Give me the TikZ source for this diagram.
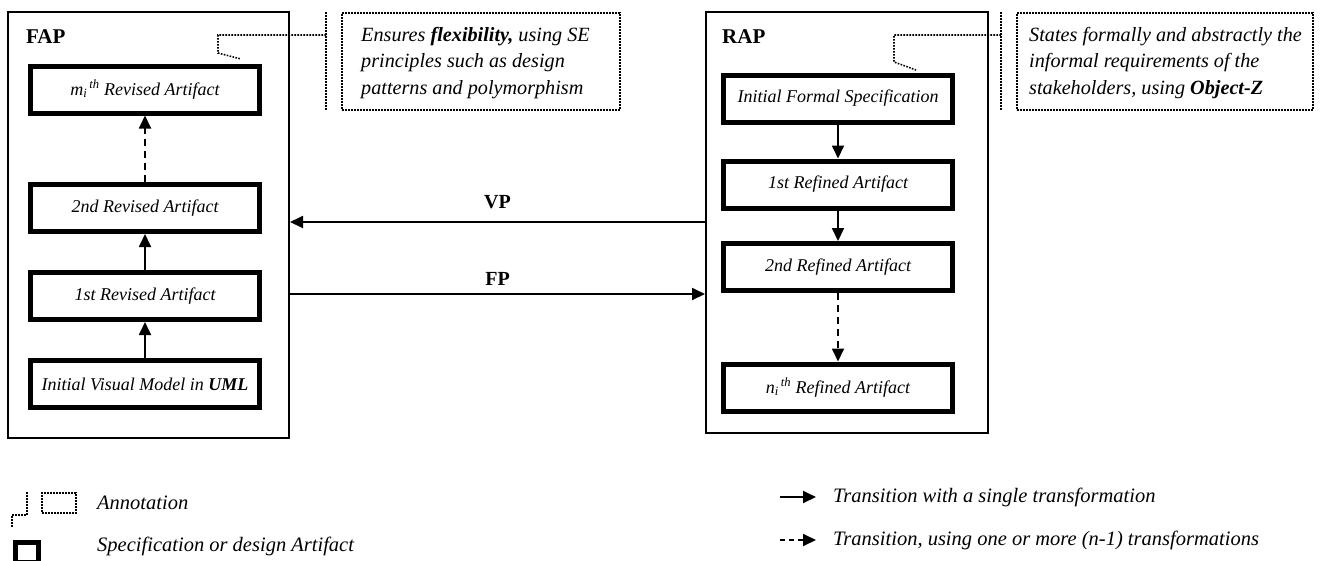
\documentclass[tikz,border=0pt]{standalone}
\usepackage{fontspec}
\setmainfont{Liberation Serif}
\usetikzlibrary{arrows.meta}

\tikzset{
  panel/.style={draw, line width=2, minimum width=#1, inner sep=0},
  artifact/.style={draw, line width=5, minimum width=229, minimum height=47,
    inner sep=0, font=\fontsize{18}{21}\selectfont\itshape},
  title/.style={font=\fontsize{21}{25}\selectfont\bfseries, anchor=west, inner sep=0},
  note/.style={draw, line width=1.6, dash pattern=on 1.6 off 1.4, inner sep=0,
    minimum width=#1, minimum height=97},
  notetext/.style={anchor=west, align=left, inner sep=0,
    font=\fontsize{20.2}{26.5}\selectfont\itshape},
  leader/.style={line width=1.6, dash pattern=on 1.6 off 1.4},
  arr/.style={line width=1.8, -{Triangle[length=13,width=12]}},
  darr/.style={arr, dash pattern=on 7 off 5},
  legendtext/.style={anchor=west, inner sep=0, font=\fontsize{20.5}{24}\selectfont\itshape},
  plabel/.style={font=\fontsize{20}{23}\selectfont\bfseries, inner sep=0}
}

\begin{document}
\begin{tikzpicture}[x=1pt,y=-1pt]
\useasboundingbox (0,0) rectangle (1325,560);

% ---- FAP panel ----
\node[panel=281, minimum height=426] (fap) at (148.5,225) {};
\node[title] (faptitle) at (26,37) {FAP};
\node[artifact] (m)  at (145,89.5) {m\textsubscript{i}\textsuperscript{\,th} Revised Artifact};
\node[artifact] (r2) at (145,208)  {2nd Revised Artifact};
\node[artifact] (r1) at (145,296)  {1st Revised Artifact};
\node[artifact] (uml) at (145,384) {Initial Visual Model in \textbf{UML}};

\draw[arr]  (uml) -- (r1);
\draw[arr]  (r1) -- (r2);
\draw[darr] (r2) -- (m);

% ---- RAP panel ----
\node[panel=282, minimum height=421] (rap) at (847,222.5) {};
\node[title] (raptitle) at (722,37) {RAP};
\node[artifact] (spec) at (838,98.5)  {Initial Formal Specification};
\node[artifact] (f1)   at (838,184.5) {1st Refined Artifact};
\node[artifact] (f2)   at (838,267)   {2nd Refined Artifact};
\node[artifact] (fn)   at (838,387.5) {n\textsubscript{i}\textsuperscript{\,th} Refined Artifact};

\draw[arr]  (spec) -- (f1);
\draw[arr]  (f1) -- (f2);
\draw[darr] (f2) -- (fn);

% ---- passes between the panels ----
\coordinate (vpy) at (0,222);
\coordinate (fpy) at (0,294);
\draw[arr] (rap.west |- vpy) -- node[plabel, above=12] (vp) {VP} (fap.east |- vpy);
\draw[arr] (fap.east |- fpy) -- node[plabel, above=8] (fp) {FP} (rap.west |- fpy);

% ---- annotations ----
\node[note=278] (fapnote) at (481,61.5) {};
\node[notetext] (fapnotetext) at (361,63)
  {Ensures \textbf{flexibility,} using SE\\principles such as design\\patterns and polymorphism};
\coordinate (fapbar) at (326,35);
\draw[leader] (fapnote.north west -| 326,0) -- (fapnote.south west -| 326,0);
\draw[leader] (fapbar) -- (218,35) -- (218,53) -- (241,59);

\node[note=296] (rapnote) at (1165,61.5) {};
\node[notetext] (rapnotetext) at (1029,63)
  {States formally and abstractly the\\informal requirements of the\\stakeholders, using \textbf{Object-Z}};
\coordinate (rapbar) at (1001,35);
\draw[leader] (rapnote.north west -| 1001,0) -- (rapnote.south west -| 1001,0);
\draw[leader] (rapbar) -- (894,35) -- (894,62) -- (916,70);

% ---- legend ----
\node[draw, leader, minimum width=34, minimum height=20, inner sep=0] (lnote) at (59,503) {};
\draw[leader] (lnote.north west -| 27,0) -- (27,515) -- (12,515) -- (12,528);
\node[legendtext] (lnotetext) at (97,503) {Annotation};

\node[draw, line width=5, minimum width=23, minimum height=20, inner sep=0] (lart) at (26.5,552) {};
\node[legendtext] (larttext) at (97,546) {Specification or design Artifact};

\coordinate (s1) at (780,497);
\coordinate (s2) at (816,497);
\draw[arr] (s1) -- (s2);
\node[legendtext] (stext) at (833,497) {Transition with a single transformation};

\coordinate (d1) at (780,540);
\coordinate (d2) at (816,540);
\draw[arr, dash pattern=on 5 off 4] (d1) -- (d2);
\node[legendtext] (dtext) at (833,540) {Transition, using one or more (n-1) transformations};
\end{tikzpicture}
\end{document}
